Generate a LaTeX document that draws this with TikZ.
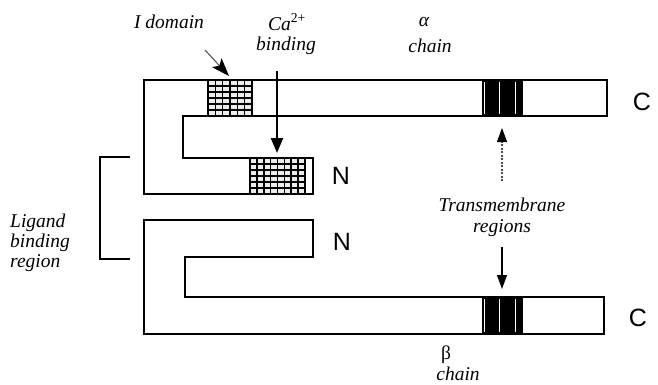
\documentclass[tikz,border=0pt]{standalone}
\usepackage{fontspec}
\setmainfont{Liberation Serif}
\newfontfamily\sansN{Liberation Sans}
\usetikzlibrary{arrows.meta}
\tikzset{
  outline/.style={line width=2.8pt, line join=miter},
  lbl/.style={font=\fontsize{19.5}{21}\selectfont\itshape, inner sep=0pt, anchor=center},
  term/.style={font=\fontsize{25}{27}\selectfont\sansN, inner sep=0pt, anchor=center},
  grid line/.style={line width=1.6pt},
  tmband/.style={fill=black},
  tmwhite/.style={white, line width=1.1pt},
  thinarrow/.style={line width=1pt, -{Stealth[length=18pt,width=13pt,inset=4pt,color=black]}},
  thickarrow/.style={line width=2.4pt, -{Triangle[length=15pt,width=12pt]}},
  tmarrow/.style={line width=1.1pt, -{Triangle[length=14pt,width=10pt,color=black]}},
}
\begin{document}
\begin{tikzpicture}[x=1pt,y=-1pt]
\useasboundingbox (0,0) rectangle (658,385);

% --- I domain hatched block (alpha top bar)
\fill[gray!15] (208,80) rectangle (252,116);
\foreach \i in {0,...,6} { \draw[grid line] ({208+\i*44/6},80) -- ({208+\i*44/6},116); }
\foreach \j in {0,...,6} { \draw[grid line] (208,{80+\j*6}) -- (252,{80+\j*6}); }

% --- Ca binding hatched block (alpha N-terminal end)
\fill[gray!15] (250,158) rectangle (305,194);
\foreach \i in {0,...,8} { \draw[grid line] ({250+\i*55/8},158) -- ({250+\i*55/8},194); }
\foreach \j in {0,...,6} { \draw[grid line] (250,{158+\j*6}) -- (305,{158+\j*6}); }

% --- transmembrane bands
\fill[tmband] (482,80) rectangle (523,116);
\foreach \xx in {484.5,499.5,515.5} { \draw[tmwhite] (\xx,82) -- (\xx,114); }
\fill[tmband] (482,297) rectangle (523,334);
\foreach \xx in {484.5,499.5,515.5} { \draw[tmwhite] (\xx,299) -- (\xx,332); }

% --- alpha chain outline
\draw[outline] (144,80) -- (607,80) -- (607,116) -- (183,116) -- (183,158)
  -- (313,158) -- (313,194) -- (144,194) -- cycle;

% --- beta chain outline
\draw[outline] (144,220) -- (313,220) -- (313,257) -- (185,257) -- (185,297)
  -- (604,297) -- (604,334) -- (144,334) -- cycle;

% --- ligand binding bracket
\draw[outline] (130,157) -- (100,157) -- (100,259) -- (130,259);

% --- terminal labels
\node[term] (Ca) at (642,102) {C};
\node[term] (Cb) at (638,318) {C};
\node[term] (Na) at (341,176) {N};
\node[term] (Nb) at (342,242) {N};

% --- text labels
\node[lbl] (idom) at (169,22) {I domain};
\node[lbl] (ca) at (287,22) {Ca\textsuperscript{\upshape 2+}};
\node[lbl] (cabind) at (286,46) {binding};
\node[lbl] (alpha) at (424,22) {α};
\node[lbl] (achain) at (430,46) {chain};
\node[lbl, align=left, anchor=west] (lig) at (10,243) {Ligand\\[-1pt]binding\\[-1pt]region};
\node[lbl] (tm1) at (502,205) {Transmembrane};
\node[lbl] (tm2) at (502,228) {regions};
\node[lbl, font=\fontsize{19.5}{21}\selectfont\upshape] (beta) at (446,355) {β};
\node[lbl] (bchain) at (458,374) {chain};

% --- arrow end points
\coordinate (idomS) at (205,50);
\coordinate (idomT) at (229,76);
\coordinate (caS) at (277,71);
\coordinate (caT) at (277,153);
\coordinate (tmupS) at (502,181);
\coordinate (tmupT) at (502,128);
\coordinate (tmdnS) at (502,247);
\coordinate (tmdnT) at (502,289);

% --- arrows
\draw[thinarrow, draw=gray!60!black] (idomS) -- (idomT);
\draw[thickarrow] (caS) -- (caT);
\draw[tmarrow, dash pattern=on 2pt off 1.5pt, draw=gray!60!black] (tmupS) -- (tmupT);
\draw[tmarrow] (tmdnS) -- (tmdnT);
\end{tikzpicture}
\end{document}
